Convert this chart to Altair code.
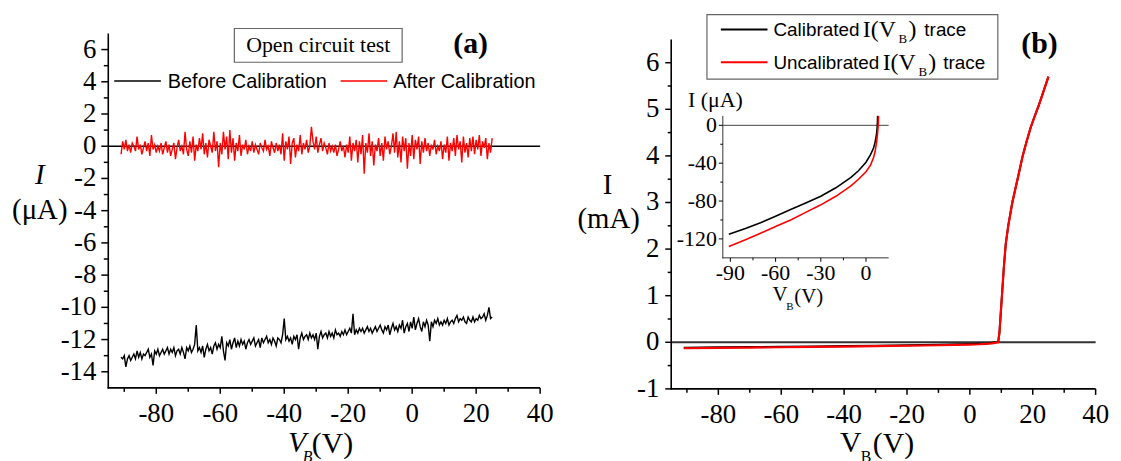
import altair as alt
import pandas as pd

# ---------------- data ----------------
# (a) open circuit test, V_B sweep from -91 V in 0.5 V steps
V_A_START = -91.0
V_A_STEP = 0.5
red_a = [
    -0.5, 0.3, -0.2, 0.4, -0.3, 0.1, -0.4, 0.2, 0.0, -0.3,
    0.6, -0.2, 0.1, -0.5, -0.1, 0.3, -0.3, 0.2, -0.6, 0.7,
    -0.2, 0.1, -0.4, 0.0, -0.3, 0.2, -0.5, -0.1, 0.3, -0.4,
    0.1, -0.6, -0.2, 0.2, -0.8, -0.1, 0.4, -0.3, 0.0, -0.5,
    0.9, -0.2, -0.6, 0.3, -0.4, 0.6, -0.9, 0.1, -0.3, 0.5,
    -0.2, 0.8, -0.5, 0.2, -0.7, 0.4, 0.0, -0.4, 0.9, -0.3,
    0.3, -1.3, 0.2, -0.5, 0.9, -0.2, 0.6, -0.8, 1.0, -0.4,
    0.5, -0.9, 0.2, -0.3, 0.7, -0.6, 0.1, -0.2, 0.4, -0.5,
    0.0, -0.3, 0.3, -0.4, 0.1, -0.2, -0.5, 0.2, -0.1, -0.3,
    0.4, -0.2, 0.0, -0.6, 0.3, -0.1, -0.4, 0.2, -0.3, 0.1,
    -0.5, 0.8, -0.9, 0.3, -0.2, 0.6, -1.1, 0.2, 0.5, -0.7,
    0.1, -0.3, 0.7, -0.5, 0.2, -0.2, 0.4, -0.4, 0.0, 1.2,
    0.3, -0.2, 0.6, -0.4, 0.1, 0.5, -0.3, 0.2, -0.1, -0.5,
    0.2, -0.3, 0.0, -0.4, 0.1, -0.6, -0.2, 0.3, -0.3, 0.0,
    -0.7, 0.1, -0.4, 0.6, -0.9, 0.2, -0.3, 0.4, -1.0, 0.3,
    -0.5, 0.7, -1.7, 0.2, -0.4, 0.8, -0.6, 0.3, -1.2, 0.1,
    -0.3, 0.5, -0.6, 0.2, -0.9, 0.6, -0.2, 0.3, -0.5, 0.0,
    0.8, -0.4, 0.9, -0.7, 0.3, -1.0, 0.6, -0.3, 0.5, -1.4,
    0.2, -0.6, 0.7, -0.8, 0.4, -0.2, 0.6, -1.1, 0.3, -0.4,
    0.5, -0.3, 0.2, -0.6, 0.1, -0.2, 0.4, -0.5, 0.0, -0.3,
    0.3, -0.8, 0.1, -0.4, 0.6, -0.9, 0.2, -0.3, 0.5, -0.6,
    0.7, -0.2, 0.3, -1.0, 0.6, -0.4, 0.2, -0.7, 0.5, -0.3,
    0.6, -0.5, 0.4, -0.2, 0.7, -0.6, 0.3, -0.1, 0.5, -0.8,
    0.2, -0.4, 0.5,
]
black_a = [
    -13.1, -13.2, -13.0, -13.7, -13.2, -13.0, -13.3, -13.1, -12.9, -13.2,
    -12.7, -13.1, -12.8, -13.2, -12.9, -13.0, -12.8, -12.6, -13.1, -12.9,
    -13.6, -12.7, -12.9, -12.6, -13.0, -12.8, -12.6, -12.9, -12.7, -12.5,
    -12.9, -12.6, -12.8, -12.5, -13.0, -12.7, -12.6, -12.9, -12.5, -12.8,
    -13.2, -12.5, -12.7, -12.4, -12.8, -12.6, -12.3, -11.1, -12.7, -12.5,
    -12.8, -12.4, -13.1, -12.6, -12.3, -12.7, -12.5, -12.9, -12.4, -12.2,
    -12.6, -12.3, -12.5, -11.8, -12.7, -13.3, -12.2, -12.4, -12.0, -12.6,
    -12.2, -11.9, -12.5, -12.1, -12.4, -12.0, -12.3, -12.1, -12.6, -12.2,
    -12.0, -12.3, -12.1, -11.9, -12.4, -12.2, -12.0, -12.5, -11.9, -12.2,
    -12.0, -11.8, -12.2, -12.0, -12.3, -11.9, -12.1, -12.4, -11.9, -12.0,
    -12.2, -11.7, -10.7, -12.0, -11.8, -12.1, -11.9, -12.3, -11.8, -12.0,
    -11.7, -12.6, -11.9, -11.6, -12.0, -11.8, -11.7, -12.0, -11.6, -11.9,
    -11.7, -12.0, -11.6, -12.6, -11.8, -11.5, -11.9, -11.7, -11.6, -11.9,
    -11.5, -11.8, -11.6, -11.9, -11.4, -11.7, -11.6, -11.8, -11.5, -11.7,
    -11.4, -11.7, -11.5, -11.3, -11.6, -10.4, -11.7, -11.4, -11.6, -11.3,
    -11.5, -11.3, -11.6, -11.4, -11.2, -11.5, -11.3, -11.6, -11.4, -11.2,
    -11.5, -11.3, -11.1, -11.4, -11.6, -11.2, -11.4, -11.1, -11.7, -11.3,
    -11.0, -11.4, -11.2, -11.5, -11.1, -11.3, -10.8, -11.6, -11.2, -11.0,
    -11.5, -10.9, -11.3, -10.6, -11.4, -11.0, -10.7, -11.2, -11.5, -10.9,
    -11.2, -10.8, -11.1, -12.1, -10.9, -11.2, -10.8, -11.0, -10.7, -11.1,
    -10.9, -11.1, -10.8, -11.0, -10.7, -11.1, -10.9, -10.8, -11.0, -10.7,
    -10.5, -10.9, -10.7, -10.8, -10.6, -10.9, -11.0, -10.6, -10.8, -10.9,
    -10.6, -10.9, -10.7, -10.8, -10.5, -10.7, -10.6, -10.4, -10.8, -10.5,
    -10.0, -10.7, -10.6,
]
v_a = [V_A_START + V_A_STEP * i for i in range(len(red_a))]

# (b) main I(V_B) traces, mA
red_b_v = [-91, -80, -70, -60, -50, -40, -30, -20, -10, 0, 3, 5, 7, 8, 8.5, 9,
           9.4, 9.8, 10.3, 10.8, 11.4, 12.2, 13.5, 14.5, 15.5, 16.8, 18, 19.3, 20.6, 22, 23.5, 25]
red_b_i = [-0.128, -0.121, -0.114, -0.107, -0.100, -0.092, -0.084, -0.075, -0.064, -0.049,
           -0.042, -0.034, -0.022, -0.012, -0.005, 0.0,
           0.2, 0.6, 1.1, 1.6, 2.1, 2.5, 3.0, 3.3, 3.6, 4.0, 4.3, 4.6, 4.85, 5.1, 5.4, 5.7]
blk_b_v = [-91, -80, -70, -60, -50, -40, -30, -20, -10, 0, 3, 5, 7, 8, 9,
           9.4, 9.8, 10.3, 10.8, 11.4, 12.2, 13.5, 14.5, 15.5, 16.8, 18, 19.3, 20.6, 22, 23.5, 25]
blk_b_i = [-0.115, -0.109, -0.103, -0.096, -0.089, -0.082, -0.075, -0.066, -0.055, -0.039,
           -0.031, -0.024, -0.009, 0.0, 0.005,
           0.2, 0.6, 1.1, 1.6, 2.1, 2.5, 3.0, 3.3, 3.6, 4.0, 4.3, 4.6, 4.85, 5.1, 5.4, 5.7]

# inset, uA
ins_blk_v = [-91, -80, -70, -60, -50, -40, -30, -20, -10, -5, 0, 3, 5, 6, 7, 7.4, 7.6, 7.7]
ins_blk_i = [-115, -109, -103, -96, -89, -82, -75, -66, -55, -48, -39, -31, -24, -18, -9, -2, 4, 10]
ins_red_v = [-91, -80, -70, -60, -50, -40, -30, -20, -10, -5, 0, 3, 5, 6, 7, 7.7, 8.1, 8.3]
ins_red_i = [-128, -121, -114, -107, -100, -92, -84, -75, -64, -57, -49, -42, -34, -28, -18, -8, 0, 10]

# tick values
ticks_a_y = [-14, -12, -10, -8, -6, -4, -2, 0, 2, 4, 6]
minor_a_y = [-13, -11, -9, -7, -5, -3, -1, 1, 3, 5]
ticks_x = [-80, -60, -40, -20, 0, 20, 40]
minor_xt = [-90, -70, -50, -30, -10, 10, 30]
ticks_b_y = [-1, 0, 1, 2, 3, 4, 5, 6]
minor_b_y = [-0.5, 0.5, 1.5, 2.5, 3.5, 4.5, 5.5]
ticks_i_y = [-120, -80, -40, 0]
minor_i_y = [-100, -60, -20]
ticks_i_x = [-90, -60, -30, 0]
minor_i_x = [-75, -45, -15]

# ---------------- layout helpers ----------------
W, H = 1113, 453
OX, OY = 8, 8


def px(x):
    return x - OX


def py(y):
    return y - OY


SERIF = "Liberation Serif"
SANS = "Liberation Sans"

A_L, A_R, A_T, A_B = 109, 544, 32, 389
B_L, B_R, B_T, B_B = 676, 1103.5, 38, 390
I_L, I_R, I_T, I_B = 728, 895, 115, 258

sx_a = alt.Scale(domain=[-95, 40], range=[px(A_L), px(A_R)], nice=False, zero=False)
sy_a = alt.Scale(domain=[-15, 7], range=[py(A_B), py(A_T)], nice=False, zero=False)
sx_b = alt.Scale(domain=[-95, 40], range=[px(B_L), px(B_R)], nice=False, zero=False)
sy_b = alt.Scale(domain=[-1, 6.5], range=[py(B_B), py(B_T)], nice=False, zero=False)
sx_i = alt.Scale(domain=[-95, 15], range=[px(I_L), px(I_R)], nice=False, zero=False)
sy_i = alt.Scale(domain=[-140, 10], range=[py(I_B), py(I_T)], nice=False, zero=False)

one = pd.DataFrame({"k": [0]})


def label(txt, x, y, size, font=SERIF, align="left", baseline="middle", style="normal",
          weight="normal"):
    return alt.Chart(one).mark_text(text=txt, font=font, fontSize=size, align=align,
                                    baseline=baseline, fontStyle=style, fontWeight=weight,
                                    color="black").encode(x=alt.value(px(x)), y=alt.value(py(y)))


def seg(x1, x2, y, color, width):
    return alt.Chart(one).mark_rule(color=color, strokeWidth=width).encode(
        x=alt.value(px(x1)), x2=alt.value(px(x2)), y=alt.value(py(y)))


def vseg(x, y1, y2, color, width):
    return alt.Chart(one).mark_rule(color=color, strokeWidth=width).encode(
        x=alt.value(px(x)), y=alt.value(py(y1)), y2=alt.value(py(y2)))


def box(x1, y1, x2, y2):
    return alt.Chart(one).mark_rect(fillOpacity=0, stroke="#666666", strokeWidth=1.2).encode(
        x=alt.value(px(x1)), x2=alt.value(px(x2)), y=alt.value(py(y1)), y2=alt.value(py(y2)))


def yticks(vals, scale, xaxis, length, width):
    d = pd.DataFrame({"t": vals})
    return alt.Chart(d).mark_rule(color="black", strokeWidth=width).encode(
        y=alt.Y("t:Q", scale=scale, axis=None),
        x=alt.value(px(xaxis) - length), x2=alt.value(px(xaxis)))


def xticks(vals, scale, yaxis, length, width):
    d = pd.DataFrame({"t": vals})
    return alt.Chart(d).mark_rule(color="black", strokeWidth=width).encode(
        x=alt.X("t:Q", scale=scale, axis=None),
        y=alt.value(py(yaxis)), y2=alt.value(py(yaxis) + length))


def ylabels(vals, scale, xright, size):
    d = pd.DataFrame({"t": vals, "lab": [str(v) for v in vals]})
    return alt.Chart(d).mark_text(font=SERIF, fontSize=size, align="right", baseline="middle",
                                  color="black").encode(
        y=alt.Y("t:Q", scale=scale, axis=None), x=alt.value(px(xright)), text="lab:N")


def xlabels(vals, scale, ycenter, size):
    d = pd.DataFrame({"t": vals, "lab": [str(v) for v in vals]})
    return alt.Chart(d).mark_text(font=SERIF, fontSize=size, align="center", baseline="middle",
                                  color="black").encode(
        x=alt.X("t:Q", scale=scale, axis=None), y=alt.value(py(ycenter)), text="lab:N")


def zero_rule(scale, x1, x2, color, width):
    d = pd.DataFrame({"z": [0]})
    return alt.Chart(d).mark_rule(color=color, strokeWidth=width).encode(
        y=alt.Y("z:Q", scale=scale, axis=None), x=alt.value(px(x1)), x2=alt.value(px(x2)))


def trace(xs, ys, sx, sy, color, width):
    d = pd.DataFrame({"V": xs, "I": ys})
    return alt.Chart(d).mark_line(color=color, strokeWidth=width).encode(
        x=alt.X("V:Q", scale=sx, axis=None), y=alt.Y("I:Q", scale=sy, axis=None))


# ---------------- panel (a) ----------------
panel_a = alt.layer(
    zero_rule(sy_a, A_L, A_R, "black", 1.5),
    trace(v_a, black_a, sx_a, sy_a, "black", 1.4),
    trace(v_a, red_a, sx_a, sy_a, "#ff0000", 1.4),
    vseg(A_L, A_T, A_B + 0.7, "black", 1.6),
    seg(A_L - 0.7, A_R, A_B, "black", 1.6),
    yticks(ticks_a_y, sy_a, A_L, 7, 1.5),
    yticks(minor_a_y, sy_a, A_L, 4.5, 1.5),
    xticks(ticks_x, sx_a, A_B, 6, 1.5),
    xticks(minor_xt, sx_a, A_B, 4, 1.5),
    ylabels(ticks_a_y, sy_a, 97, 27),
    xlabels(ticks_x, sx_a, 415, 27),
)

# ---------------- panel (b) ----------------
panel_b = alt.layer(
    zero_rule(sy_b, B_L, B_R, "#333333", 2),
    trace(blk_b_v, blk_b_i, sx_b, sy_b, "black", 2),
    trace(red_b_v, red_b_i, sx_b, sy_b, "#ff0000", 2.2),
    vseg(B_L, B_T, B_B + 0.7, "black", 1.6),
    seg(B_L - 0.7, B_R, B_B, "black", 1.6),
    yticks(ticks_b_y, sy_b, B_L, 6, 1.5),
    yticks(minor_b_y, sy_b, B_L, 3.5, 1.5),
    xticks(ticks_x, sx_b, B_B, 6, 1.5),
    xticks(minor_xt, sx_b, B_B, 4, 1.5),
    ylabels(ticks_b_y, sy_b, 664, 27),
    xlabels(ticks_x, sx_b, 416, 27),
)

# ---------------- inset ----------------
inset = alt.layer(
    zero_rule(sy_i, I_L, I_R, "#444444", 1),
    trace(ins_blk_v, ins_blk_i, sx_i, sy_i, "black", 1.6),
    trace(ins_red_v, ins_red_i, sx_i, sy_i, "#ff0000", 1.6),
    vseg(I_L, I_T, I_B + 0.5, "#333333", 1),
    seg(I_L - 0.5, I_R, I_B, "#333333", 1),
    yticks(ticks_i_y, sy_i, I_L, 4, 1),
    yticks(minor_i_y, sy_i, I_L, 2.5, 1),
    xticks(ticks_i_x, sx_i, I_B, 4, 1),
    xticks(minor_i_x, sx_i, I_B, 2.5, 1),
    ylabels(ticks_i_y, sy_i, 722, 22),
    xlabels(ticks_i_x, sx_i, 273, 22),
)

# ---------------- annotations ----------------
notes = [
    # panel (a)
    label("I", 40, 175, 29, style="italic", align="center"),
    label("(\u03bcA)", 40, 210, 29, align="center"),
    label("V", 290, 445, 30, style="italic"),
    label("B", 305, 459, 16, style="italic"),
    label("(V)", 314, 446, 30),
    label("(a)", 474, 43, 30, weight="bold", align="center"),
    box(236, 27, 405, 61),
    label("Open circuit test", 320.5, 44, 22, align="center"),
    seg(115, 162, 80, "black", 1.5),
    label("Before Calibration", 169, 80.5, 20, font=SANS),
    seg(343, 390, 80, "#ff0000", 1.5),
    label("After Calibration", 396, 80.5, 20, font=SANS),
    # panel (b)
    label("I", 612, 185, 29, align="center"),
    label("(mA)", 613, 219, 29, align="center"),
    label("V", 846, 445, 30),
    label("B", 867, 459, 16),
    label("(V)", 879, 446, 30),
    label("(b)", 1047, 43, 30, weight="bold", align="center"),
    box(712, 13, 1005, 78),
    seg(726, 773, 28, "black", 2),
    label("Calibrated", 779, 28.5, 19, font=SANS),
    label("I(V", 869, 28.5, 24),
    label("B", 905, 38, 13),
    label(")", 915, 28.5, 24),
    label("trace", 931, 28.5, 19, font=SANS),
    seg(726, 773, 61, "#ff0000", 2),
    label("Uncalibrated", 779, 61.5, 19, font=SANS),
    label("I(V", 889, 61.5, 24),
    label("B", 925, 71, 13),
    label(")", 935, 61.5, 24),
    label("trace", 950, 61.5, 19, font=SANS),
    # inset
    label("I (\u03bcA)", 693, 99.5, 22),
    label("V", 778, 295, 21),
    label("B", 792, 308, 11),
    label("(V)", 800, 297, 21),
]

chart = alt.layer(panel_a, panel_b, inset, *notes).resolve_scale(
    x="independent", y="independent"
).properties(
    width=W, height=H, padding=0, autosize=alt.AutoSizeParams(type="none")
).configure_view(stroke=None)

chart.save("out.html", embed_options={"renderer": "svg", "actions": False})
